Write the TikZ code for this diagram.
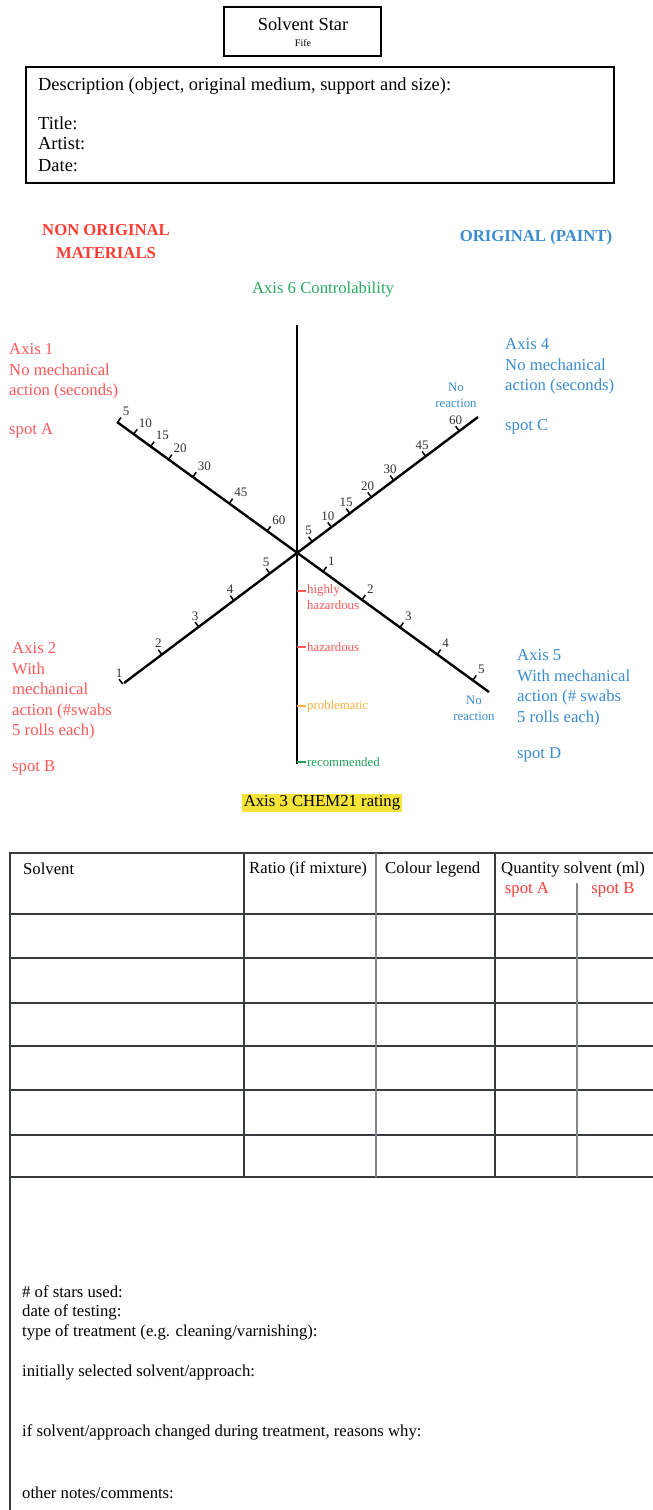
\documentclass[tikz,border=0pt]{standalone}
\usepackage{fontspec}
\setmainfont{Liberation Serif}
\usetikzlibrary{calc}
\definecolor{nored}{RGB}{255,60,52}
\definecolor{axred}{RGB}{255,88,88}
\definecolor{axblue}{RGB}{58,140,208}
\definecolor{axgreen}{RGB}{40,170,100}
\definecolor{recgreen}{RGB}{30,160,90}
\definecolor{probor}{RGB}{247,178,60}
\definecolor{hl}{RGB}{244,228,58}
\definecolor{tbl}{RGB}{55,58,62}
\definecolor{tblgray}{RGB}{130,134,138}
\definecolor{numgray}{RGB}{50,50,50}
\newcommand{\myfs}[2]{\fontsize{#1}{#2}\selectfont}
\tikzset{
  txt/.style={inner sep=0pt, font=\myfs{16.7}{20.5}},
  big/.style={inner sep=0pt, font=\myfs{18.4}{22}},
  small/.style={inner sep=0pt, font=\myfs{12.8}{16}},
  num/.style={inner sep=1pt, font=\myfs{13}{14}, text=numgray},
  axisline/.style={line width=2.4pt, black},
  tickline/.style={line width=1.5pt, black},
  hz/.style={line width=1.4pt},
  tline/.style={line width=1.5pt, tbl},
  tlinegray/.style={line width=1.5pt, tblgray},
  boxline/.style={line width=1.4pt, black}
}
\begin{document}
\begin{tikzpicture}[x=1pt,y=-1pt]
\useasboundingbox (0,0) rectangle (653,1510);
\fill[white] (0,0) rectangle (653,1510);

% ---------- header boxes
\node[draw, boxline, minimum width=157pt, minimum height=49pt, inner sep=0pt] (titlebox) at (302.5,31.5) {};
\node[big] (ttl) at (303,24) {Solvent Star};
\node[inner sep=0pt, font=\myfs{10}{12}] (fife) at (303,43) {Fife};

\coordinate (d1) at (26,67);
\coordinate (d2) at (614,183);
\draw[boxline] (d1) rectangle (d2);
\node[big, anchor=west] (desc) at (38,86) {Description (object, original medium, support and size):};
\node[big, anchor=west] (dtitle) at (38,123) {Title:};
\node[big, anchor=west] (dartist) at (38,144) {Artist:};
\node[big, anchor=west] (ddate) at (38,166) {Date:};

% ---------- headings
\node[txt, font=\bfseries\myfs{16.7}{23}, text=nored, align=center, anchor=north] (nonorig) at (106,224.5) {NON ORIGINAL\\MATERIALS};
\node[txt, font=\bfseries\myfs{16.7}{20.5}, text=axblue] (orig) at (536,237) {ORIGINAL (PAINT)};
\node[txt, text=axgreen] (ax6) at (323,290) {Axis 6 Controlability};

% ---------- star
\coordinate (C) at (297,553);
\coordinate (E1) at (117,422);
\coordinate (E5) at (489,692);
\coordinate (E4) at (478,417);
\coordinate (E2) at (124,683);
\coordinate (V1) at (297,325);
\coordinate (V3) at (297,764);
\draw[axisline] (E1) -- (E5);
\draw[axisline] (E2) -- (E4);
\draw[axisline] (V1) -- (V3);

% axis 1 ticks
\foreach \d/\l in {222/5,202/10,181/15,159/20,129/30,84/45,37/60}{
  \coordinate (b) at ($(C)!\d pt!(E1)$);
  \draw[tickline] (b) -- ($(b)!6pt!90:(C)$) node[num, anchor=south west] (a1n\l) {\l};
}
% axis 4 ticks
\foreach \d/\l in {19/5,43/10,66/15,93/20,121/30,161/45,203/60}{
  \coordinate (b) at ($(C)!\d pt!(E4)$);
  \draw[tickline] (b) -- ($(b)!6pt!-90:(C)$) node[num, anchor=south] (a4n\l) {\l};
}
% axis 2 ticks
\foreach \d/\l in {34/5,79/4,123/3,169/2,218/1}{
  \coordinate (b) at ($(C)!\d pt!(E2)$);
  \draw[tickline] (b) -- ($(b)!6pt!90:(C)$) node[num, anchor=south] (a2n\l) {\l};
}
% axis 5 ticks
\foreach \d/\l in {32/1,80/2,127/3,173/4,217/5}{
  \coordinate (b) at ($(C)!\d pt!(E5)$);
  \draw[tickline] (b) -- ($(b)!6pt!-90:(C)$) node[num, anchor=south west] (a5n\l) {\l};
}

% axis 3 hazard ticks
\draw[hz, axred] (297,591) -- (306,591) coordinate (h1);
\draw[hz, axred] (297,647) -- (306,647) coordinate (h2);
\draw[hz, probor] (297,706) -- (306,706) coordinate (h3);
\draw[hz, recgreen] (297,762) -- (306,762) coordinate (h4);
\node[small, text=axred, anchor=north west, align=left] (hh) at ($(h1)+(1,-7)$) {highly\\hazardous};
\node[small, text=axred, anchor=west] (hz2) at ($(h2)+(1,0)$) {hazardous};
\node[small, text=probor, anchor=west] (hz3) at ($(h3)+(1,0)$) {problematic};
\node[small, text=recgreen, anchor=west] (hz4) at ($(h4)+(1,0)$) {recommended};

\node[inner sep=1.5pt, fill=hl, font=\myfs{16.7}{20.5}] (ax3) at (322,803) {Axis 3 CHEM21 rating};

% no reaction labels
\node[small, text=axblue, align=center] (nr4) at (456,395) {No\\reaction};
\node[small, text=axblue, align=center] (nr5) at (474,708) {No\\reaction};

% axis texts
\node[txt, text=axred, anchor=north west, align=left] (ax1) at (9,343.5) {Axis 1\\No mechanical\\action (seconds)};
\node[txt, text=axred, anchor=west] (spA) at (9,431) {spot A};
\node[txt, text=axblue, anchor=north west, align=left] (ax4) at (505,338.5) {Axis 4\\No mechanical\\action (seconds)};
\node[txt, text=axblue, anchor=west] (spC) at (505,427) {spot C};
\node[txt, text=axred, anchor=north west, align=left] (ax2) at (12,642.5) {Axis 2\\With\\mechanical\\action (\#swabs\\5 rolls each)};
\node[txt, text=axred, anchor=west] (spB) at (12,768) {spot B};
\node[txt, text=axblue, anchor=north west, align=left] (ax5) at (517,649.5) {Axis 5\\With mechanical\\action (\# swabs\\5 rolls each)};
\node[txt, text=axblue, anchor=west] (spD) at (517,755) {spot D};

% ---------- table
\draw[line width=2.2pt, tbl] (10,853) -- (653,853);
\draw[tline] (10,852) -- (10,1510);
\foreach \y in {914,958,1003,1046,1090,1135,1177}{
  \draw[tline] (10,\y) -- (653,\y);
}
\draw[tline] (244,853) -- (244,1177);
\draw[tlinegray] (376,853) -- (376,1177);
\draw[tline] (495,853) -- (495,1177);
\draw[tlinegray] (577,883) -- (577,1177);

\node[txt, anchor=west] (hsolv) at (23,869) {Solvent};
\node[txt, anchor=west] (hratio) at (249,869) {Ratio (if mixture)};
\node[txt, anchor=west] (hcol) at (385,869) {Colour legend};
\node[txt, anchor=west] (hqty) at (501,869) {Quantity solvent (ml)};
\node[txt, text=nored] (hspA) at (527,890) {spot A};
\node[txt, text=nored] (hspB) at (613,890) {spot B};

\node[txt, anchor=west] (n1) at (22,1292) {\# of stars used:};
\node[txt, anchor=west] (n2) at (22,1312) {date of testing:};
\node[txt, anchor=west] (n3) at (22,1332) {type of treatment (e.g. cleaning/varnishing):};
\node[txt, anchor=west] (n4) at (22,1372) {initially selected solvent/approach:};
\node[txt, anchor=west] (n5) at (22,1432) {if solvent/approach changed during treatment, reasons why:};
\node[txt, anchor=west] (n6) at (22,1493) {other notes/comments:};
\end{tikzpicture}
\end{document}
